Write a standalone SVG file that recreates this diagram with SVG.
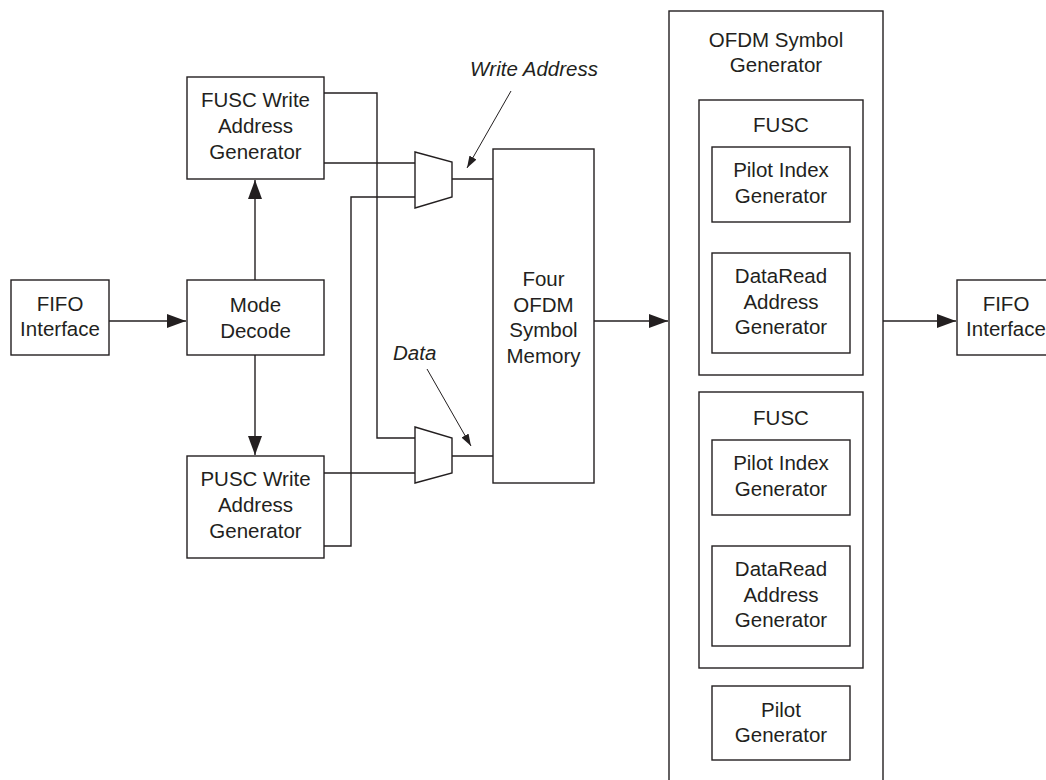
<svg xmlns="http://www.w3.org/2000/svg" width="1046" height="780" viewBox="0 0 1046 780">
<style>
.box{fill:#fff;stroke:#231f20;stroke-width:1.4}
.ln{fill:none;stroke:#231f20;stroke-width:1.4}
.thin{fill:none;stroke:#231f20;stroke-width:1}
text{font-family:"Liberation Sans",Arial,sans-serif;font-size:20.5px;fill:#231f20;text-anchor:middle}
.it{font-style:italic;text-anchor:start}
</style>
<defs>
<marker id="ah" viewBox="0 0 19 14" refX="19" refY="7" markerWidth="19" markerHeight="14" markerUnits="userSpaceOnUse" orient="auto">
<path d="M0,0 L19,7 L0,14 Z" fill="#231f20"/>
</marker>
<marker id="sh" viewBox="0 0 12 8" refX="12" refY="4" markerWidth="12" markerHeight="8" markerUnits="userSpaceOnUse" orient="auto">
<path d="M0,0 L12,4 L0,8 Z" fill="#231f20"/>
</marker>
</defs>
<rect width="1046" height="780" fill="#fff"/>

<g id="connectors">
<line class="ln" x1="109" y1="321" x2="186" y2="321" marker-end="url(#ah)"/>
<line class="ln" x1="255" y1="280" x2="255" y2="180" marker-end="url(#ah)"/>
<line class="ln" x1="255" y1="355" x2="255" y2="455" marker-end="url(#ah)"/>
<polyline class="ln" points="324,93 377,93 377,438 415,438"/>
<line class="ln" x1="324" y1="163" x2="415" y2="163"/>
<polyline class="ln" points="324,546 351,546 351,197 415,197"/>
<line class="ln" x1="324" y1="473" x2="415" y2="473"/>
<line class="ln" x1="452" y1="179" x2="493" y2="179"/>
<line class="ln" x1="452" y1="456" x2="493" y2="456"/>
<line class="ln" x1="594" y1="321" x2="668" y2="321" marker-end="url(#ah)"/>
<line class="ln" x1="883" y1="321" x2="956" y2="321" marker-end="url(#ah)"/>
<line class="thin" x1="511" y1="91" x2="467" y2="168" marker-end="url(#sh)"/>
<line class="thin" x1="427" y1="369" x2="471" y2="446" marker-end="url(#sh)"/>
</g>

<g id="mux1"><polygon class="box" points="415,152 452,162 452,197 415,208"/></g>
<g id="mux2"><polygon class="box" points="415,427 452,438 452,473 415,483"/></g>

<g id="fifo-in">
<rect class="box" x="11" y="280" width="98" height="75"/>
<text x="60" y="311">FIFO</text>
<text x="60" y="336">Interface</text>
</g>

<g id="mode-decode">
<rect class="box" x="187" y="280" width="137" height="75"/>
<text x="255.5" y="312">Mode</text>
<text x="255.5" y="338">Decode</text>
</g>

<g id="fusc-write">
<rect class="box" x="187" y="77" width="137" height="102"/>
<text x="255.5" y="107">FUSC Write</text>
<text x="255.5" y="133">Address</text>
<text x="255.5" y="159">Generator</text>
</g>

<g id="pusc-write">
<rect class="box" x="187" y="456" width="137" height="102"/>
<text x="255.5" y="486">PUSC Write</text>
<text x="255.5" y="512">Address</text>
<text x="255.5" y="538">Generator</text>
</g>

<g id="memory">
<rect class="box" x="493" y="149" width="101" height="334"/>
<text x="543.5" y="286">Four</text>
<text x="543.5" y="312">OFDM</text>
<text x="543.5" y="337">Symbol</text>
<text x="543.5" y="363">Memory</text>
</g>

<g id="labels">
<text class="it" x="470" y="76">Write Address</text>
<text class="it" x="393" y="360">Data</text>
</g>

<g id="ofdm-gen">
<rect class="box" x="669" y="11" width="214" height="800"/>
<text x="776" y="47">OFDM Symbol</text>
<text x="776" y="72">Generator</text>
</g>

<g id="fusc1">
<rect class="box" x="699" y="100" width="164" height="275"/>
<text x="781" y="132">FUSC</text>
</g>
<g id="pilot-index1">
<rect class="box" x="712" y="147" width="138" height="75"/>
<text x="781" y="177">Pilot Index</text>
<text x="781" y="203">Generator</text>
</g>
<g id="dataread1">
<rect class="box" x="712" y="253" width="138" height="100"/>
<text x="781" y="283">DataRead</text>
<text x="781" y="309">Address</text>
<text x="781" y="334">Generator</text>
</g>

<g id="fusc2">
<rect class="box" x="699" y="392" width="164" height="276"/>
<text x="781" y="425">FUSC</text>
</g>
<g id="pilot-index2">
<rect class="box" x="712" y="440" width="138" height="75"/>
<text x="781" y="470">Pilot Index</text>
<text x="781" y="496">Generator</text>
</g>
<g id="dataread2">
<rect class="box" x="712" y="546" width="138" height="100"/>
<text x="781" y="576">DataRead</text>
<text x="781" y="602">Address</text>
<text x="781" y="627">Generator</text>
</g>

<g id="pilot-gen">
<rect class="box" x="712" y="686" width="138" height="74"/>
<text x="781" y="717">Pilot</text>
<text x="781" y="742">Generator</text>
</g>

<g id="fifo-out">
<rect class="box" x="957" y="280" width="98" height="75"/>
<text x="1006" y="311">FIFO</text>
<text x="1006" y="336">Interface</text>
</g>
</svg>
